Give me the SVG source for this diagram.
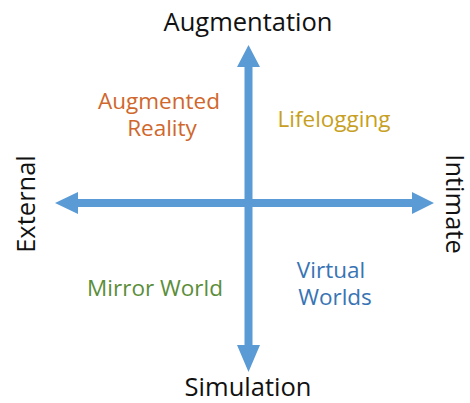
<svg xmlns="http://www.w3.org/2000/svg" width="470" height="403" viewBox="0 0 470 403">
<style>
.ax{fill:#5B9BD5}
.t{font-family:"Open Sans","Noto Sans","DejaVu Sans",sans-serif;text-anchor:middle}
.big{font-size:25.5px;fill:#111}
.q{font-size:22.5px}
</style>
<rect width="470" height="403" fill="#fff"/>
<g id="connectors">
<path class="ax" d="M244.5,67 H237 L248.5,45 L260,67 H252.5 V345 H260 L248.5,372 L237,345 H244.5 Z"/>
<path class="ax" d="M78,199 V192 L55,203 L78,214 V207 H412 V214 L434,203 L412,192 V199 Z"/>
</g>
<g id="augmentation"><text class="t big" x="248" y="31">Augmentation</text></g>
<g id="simulation"><text class="t big" x="248" y="396">Simulation</text></g>
<g id="external"><text class="t big" transform="translate(35,204) rotate(-90)">External</text></g>
<g id="intimate"><text class="t big" transform="translate(446,204) rotate(90)">Intimate</text></g>
<g id="ar"><text class="t q" x="159" y="109" fill="#D0672C">Augmented</text><text class="t q" x="162" y="136" fill="#D0672C">Reality</text></g>
<g id="lifelogging"><text class="t q" x="334" y="127" fill="#C79F22">Lifelogging</text></g>
<g id="mirror"><text class="t q" x="155" y="296" fill="#5B8E3A">Mirror World</text></g>
<g id="virtual"><text class="t q" x="331" y="278" fill="#3874B4">Virtual</text><text class="t q" x="335" y="305" fill="#3874B4">Worlds</text></g>
</svg>
